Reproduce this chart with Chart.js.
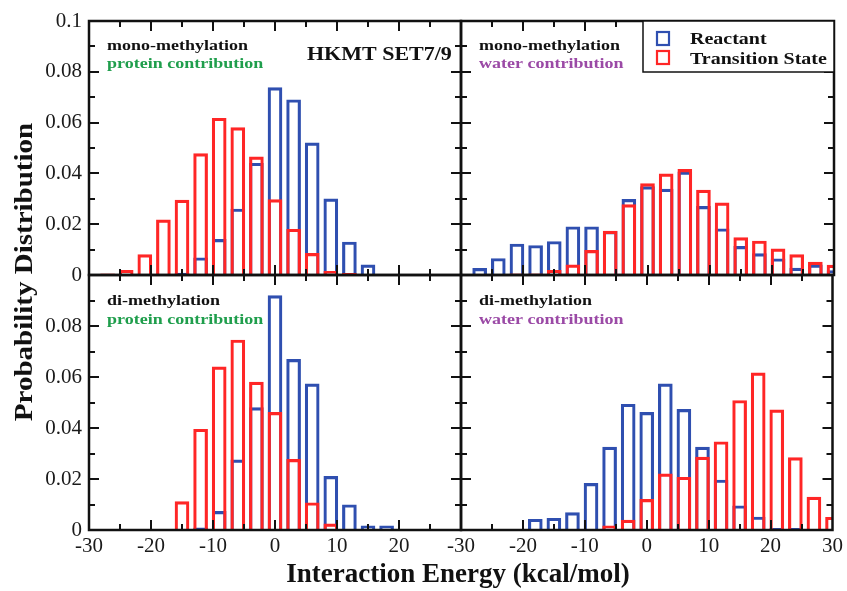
<!DOCTYPE html>
<html><head><meta charset="utf-8">
<script src="https://cdn.jsdelivr.net/npm/chart.js@4/dist/chart.umd.min.js"></script>
<style>
html,body{margin:0;padding:0;background:#fff;}
#wrap{position:relative;width:847px;height:591px;overflow:hidden;}
#wrap canvas{position:absolute;left:0;top:0;}
</style></head><body>
<div id="wrap">
<canvas id="cTL" width="847" height="591"></canvas>
<canvas id="cTR" width="847" height="591"></canvas>
<canvas id="cBL" width="847" height="591"></canvas>
<canvas id="cBR" width="847" height="591"></canvas>
</div>
<script>
// ---- data ----
const binCenters = [-27,-24,-21,-18,-15,-12,-9,-6,-3,0,3,6,9,12,15,18,21,24,27,30];
const monoProteinReactant = [0,0,0,0,0.0008,0.0068,0.014,0.026,0.044,0.0738,0.069,0.052,0.030,0.013,0.004,0,0,0,0,0];
const monoProteinTS       = [0.0005,0.0018,0.008,0.0217,0.0295,0.0478,0.0617,0.058,0.0465,0.0297,0.018,0.0085,0.0014,0.0007,0,0,0,0,0,0];
const monoWaterReactant   = [0.0026,0.0065,0.0122,0.0116,0.0132,0.019,0.019,0.0172,0.0298,0.0348,0.0338,0.0406,0.027,0.0182,0.0113,0.0084,0.0064,0.0027,0.004,0.0017];
const monoWaterTS         = [0,0,0.0005,0.0005,0.0018,0.004,0.0097,0.0173,0.0277,0.036,0.0398,0.0416,0.0334,0.0284,0.0147,0.0134,0.0103,0.008,0.0051,0.0039];
const diProteinReactant   = [0,0,0,0,0,0.0009,0.0073,0.0275,0.048,0.0919,0.0669,0.0573,0.021,0.0099,0.0016,0.0016,0,0,0,0];
const diProteinTS         = [0,0,0,0,0.0111,0.0395,0.064,0.0745,0.058,0.0461,0.0277,0.0107,0.0024,0,0,0,0,0,0,0];
const diWaterReactant     = [0,0,0,0.0042,0.0046,0.0068,0.0183,0.0325,0.0493,0.0461,0.0573,0.0473,0.0325,0.0196,0.0095,0.0051,0.0007,0.0007,0,0];
const diWaterTS           = [0,0,0,0,0,0,0,0.0016,0.0039,0.012,0.022,0.0207,0.0286,0.0346,0.0508,0.0616,0.0471,0.0284,0.0129,0.005];

const seriesNames = ['Reactant','Transition State'];
const xTickValues = [-30,-20,-10,0,10,20,30];
const xMinorTicks = [-25,-15,-5,5,15,25];
const yTickValues = [0,0.02,0.04,0.06,0.08,0.1];
const yMinorTicks = [0.01,0.03,0.05,0.07,0.09];
const xTitle = 'Interaction Energy (kcal/mol)';
const yTitle = 'Probability Distribution';

const BLUE = '#2f4fb0', RED = '#ff2626';
const GREEN = '#1f9e4c', PURPLE = '#9b4aa6';
const SERIF = '"Liberation Serif", "Times New Roman", serif';
const W = 847, H = 591;
const YAXIS_W = 70, XAXIS_H = 40;

function pts(vals){ return binCenters.map((c,i)=>({x:c,y:vals[i]})).filter(p=>p.y>0); }

function drawText(ctx, t){
  ctx.save();
  ctx.font = t.font;
  ctx.fillStyle = t.color || '#111';
  ctx.textAlign = t.align || 'left';
  ctx.textBaseline = 'alphabetic';
  ctx.translate(t.x, t.y);
  if (t.rot) ctx.rotate(t.rot);
  ctx.scale(1, t.sy || 1);
  ctx.fillText(t.text, 0, 0);
  ctx.restore();
}

function makeDeco(cfg){
  return {
    id: 'deco',
    afterDatasetsDraw(chart){
      const {ctx, chartArea:a, scales} = chart;
      const xs = scales.x, ys = scales.y;
      ctx.save();
      ctx.strokeStyle = '#111';
      ctx.lineWidth = 2;
      ctx.beginPath();
      const maj = 10, mino = 6;
      xTickValues.forEach(v=>{ const p = Math.round(xs.getPixelForValue(v)); if(p>a.left+1 && p<a.right-1){ ctx.moveTo(p,a.bottom); ctx.lineTo(p,a.bottom-maj); ctx.moveTo(p,a.top); ctx.lineTo(p,a.top+maj);} });
      xMinorTicks.forEach(v=>{ const p = Math.round(xs.getPixelForValue(v)); ctx.moveTo(p,a.bottom); ctx.lineTo(p,a.bottom-mino); ctx.moveTo(p,a.top); ctx.lineTo(p,a.top+mino); });
      yTickValues.forEach(v=>{ const p = Math.round(ys.getPixelForValue(v)); if(p>a.top+1 && p<a.bottom-1){ ctx.moveTo(a.left,p); ctx.lineTo(a.left+maj,p); ctx.moveTo(a.right,p); ctx.lineTo(a.right-maj,p);} });
      yMinorTicks.forEach(v=>{ const p = Math.round(ys.getPixelForValue(v)); ctx.moveTo(a.left,p); ctx.lineTo(a.left+mino,p); ctx.moveTo(a.right,p); ctx.lineTo(a.right-mino,p); });
      ctx.stroke();
      ctx.lineWidth = 2.5;
      ctx.strokeRect(a.left, a.top, a.width, a.height);
      (cfg.texts||[]).forEach(t=> drawText(ctx, Object.assign({}, t, {x:a.left+t.x, y:a.top+t.y})));
      if (cfg.legend){
        const ds = chart.data.datasets;
        const bx = a.left+182, by = a.top;
        ctx.fillStyle = '#fff';
        ctx.fillRect(bx, by, a.right-bx, 51);
        ctx.lineWidth = 1.5;
        ctx.strokeStyle = '#111';
        ctx.strokeRect(bx, by, a.right-bx, 51);
        const order = [1,0];
        order.forEach((di,k)=>{
          const d = ds[di];
          ctx.lineWidth = 2.2;
          ctx.strokeStyle = d.borderColor;
          ctx.strokeRect(a.left+196, a.top+11+k*19, 12, 13);
          drawText(ctx,{text:d.label, x:a.left+229, y:a.top+23+k*20, font:'bold 20px '+SERIF, color:'#111', sy:0.88});
        });
      }
      (cfg.pageTexts||[]).forEach(t=> drawText(ctx, t));
      ctx.restore();
    }
  };
}

function makeChart(id, rect, reactant, ts, opt){
  const showX = opt.showX, showY = opt.showY;
  const yw = showY ? YAXIS_W : 0, xh = showX ? XAXIS_H : 0;
  return new Chart(document.getElementById(id), {
    type: 'bar',
    data: {
      datasets: [
        {label: seriesNames[1], data: pts(ts), borderColor: RED, backgroundColor: 'rgba(0,0,0,0)', borderWidth: 2.5, order: 1, clip: 0},
        {label: seriesNames[0], data: pts(reactant), borderColor: BLUE, backgroundColor: 'rgba(0,0,0,0)', borderWidth: 2.5, order: 2, clip: 0}
      ]
    },
    options: {
      responsive: false, animation: false, devicePixelRatio: 1,
      layout: {padding: {left: rect.l - yw, top: rect.t, right: W-rect.r, bottom: H-rect.b-xh}},
      datasets: {bar: {grouped: false, barThickness: 14, borderSkipped: 'start'}},
      plugins: {legend: {display: false}, tooltip: {enabled: false}, title: {display: false}},
      scales: {
        x: {
          type: 'linear', min: -30, max: 30, offset: false,
          display: showX,
          grid: {display: false, drawTicks: false}, border: {display: false},
          afterBuildTicks: s => { s.ticks = xTickValues.map(v=>({value:v})); },
          afterFit: s => { s.height = xh; },
          ticks: {
            padding: 4, autoSkip: false, maxRotation: 0,
            color: '#1a1a1a', font: {family: SERIF, size: 21},
            callback: v => (opt.hideX30 && v === 30) ? '' : String(v)
          }
        },
        y: {
          type: 'linear', min: 0, max: 0.1,
          display: showY,
          grid: {display: false, drawTicks: false}, border: {display: false},
          afterBuildTicks: s => { s.ticks = yTickValues.map(v=>({value:v})); },
          afterFit: s => { s.width = yw; },
          ticks: {
            padding: 7, autoSkip: false,
            color: '#1a1a1a', font: {family: SERIF, size: 21},
            callback: v => (opt.hideY01 && v >= 0.099) ? '' : (v === 0 ? '0' : String(+v.toFixed(2)))
          }
        }
      }
    },
    plugins: [makeDeco(opt.deco)]
  });
}

const boldAnn = 'bold 18px ' + SERIF;
makeChart('cTL', {l:89,t:21,r:461,b:275}, monoProteinReactant, monoProteinTS, {
  showX:false, showY:true,
  deco:{texts:[
    {text:'mono-methylation', x:18, y:29, font:boldAnn, color:'#111', sy:0.85},
    {text:'protein contribution', x:18, y:47, font:boldAnn, color:GREEN, sy:0.85},
    {text:'HKMT SET7/9', x:218, y:39, font:'bold 22px '+SERIF, color:'#111', sy:0.9}
  ]}
});
makeChart('cTR', {l:461,t:21,r:834,b:275}, monoWaterReactant, monoWaterTS, {
  showX:false, showY:false,
  deco:{legend:true, texts:[
    {text:'mono-methylation', x:18, y:29, font:boldAnn, color:'#111', sy:0.85},
    {text:'water contribution', x:18, y:47, font:boldAnn, color:PURPLE, sy:0.85}
  ]}
});
makeChart('cBL', {l:89,t:275,r:461,b:530}, diProteinReactant, diProteinTS, {
  showX:true, showY:true, hideX30:true, hideY01:true,
  deco:{texts:[
    {text:'di-methylation', x:18, y:30, font:boldAnn, color:'#111', sy:0.85},
    {text:'protein contribution', x:18, y:49, font:boldAnn, color:GREEN, sy:0.85}
  ], pageTexts:[
    {text:yTitle, x:32, y:272, rot:-Math.PI/2, align:'center', font:'bold 29px '+SERIF, color:'#111', sy:0.85},
    {text:xTitle, x:458, y:582, align:'center', font:'bold 27px '+SERIF, color:'#111', sy:1}
  ]}
});
makeChart('cBR', {l:461,t:275,r:834,b:530}, diWaterReactant, diWaterTS, {
  showX:true, showY:false,
  deco:{texts:[
    {text:'di-methylation', x:18, y:30, font:boldAnn, color:'#111', sy:0.85},
    {text:'water contribution', x:18, y:49, font:boldAnn, color:PURPLE, sy:0.85}
  ]}
});
</script>
</body></html>
